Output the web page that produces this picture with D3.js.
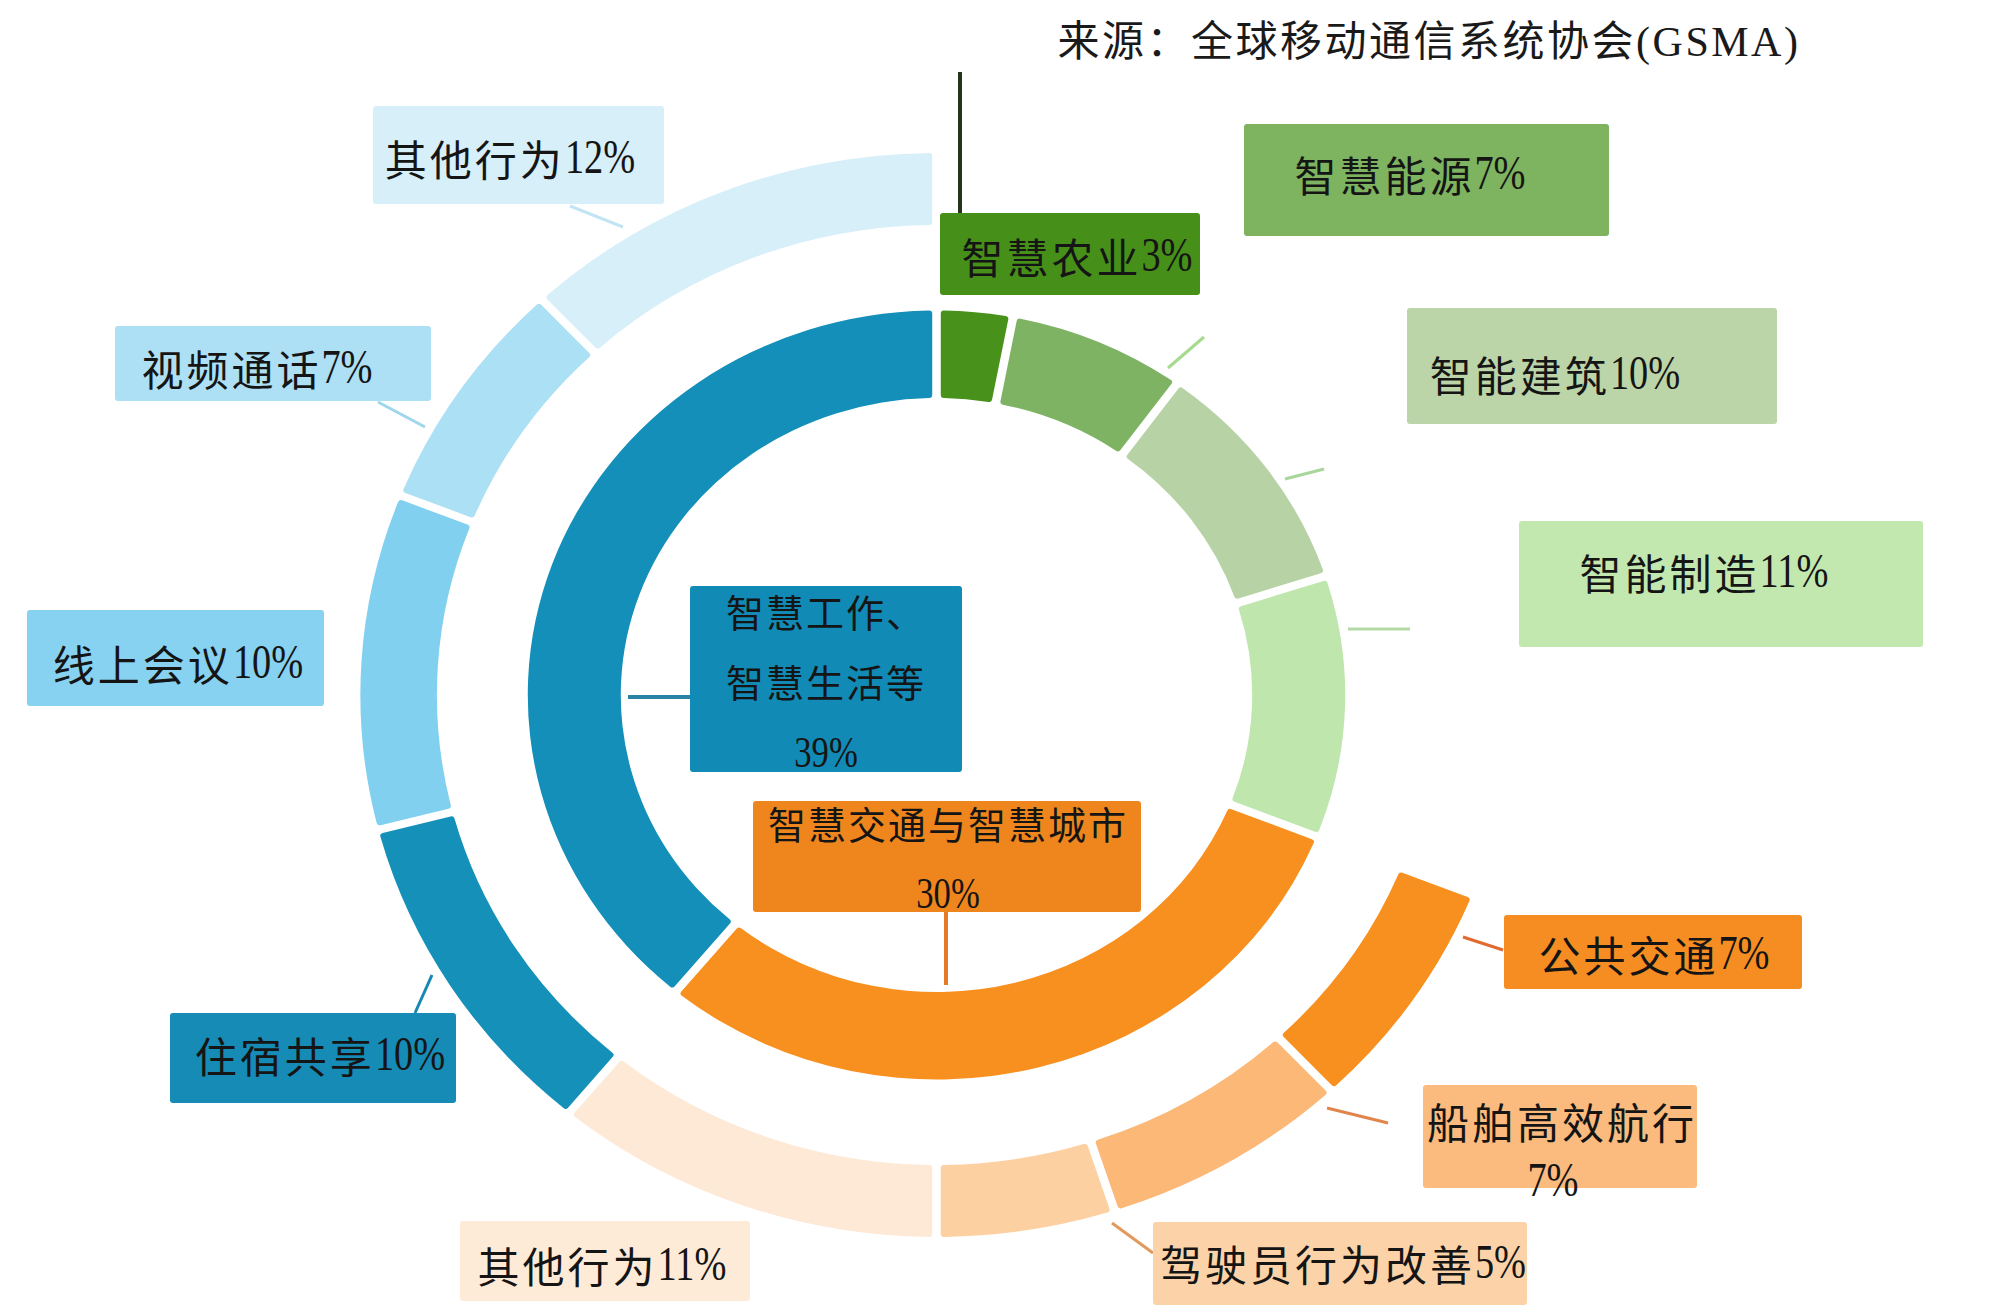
<!DOCTYPE html>
<html><head><meta charset="utf-8">
<script src="https://cdn.jsdelivr.net/npm/d3@7"></script>
<style>html,body{margin:0;padding:0;background:#fff;} svg{display:block;}</style>
</head><body><svg id="chart" width="2000" height="1316"></svg>
<script>
// ---------------- data ----------------
const innerCategories = ["智慧农业", "智慧能源", "智能建筑", "智能制造", "智慧交通与智慧城市", "智慧工作、智慧生活等"];
const innerValues = [3, 7, 10, 11, 30, 39];
const innerColors = ["#48921c", "#7db362", "#b7d3a5", "#bfe6ad", "#f8901f", "#138fb9"];

const outerCategories = ["公共交通", "船舶高效航行", "驾驶员行为改善", "其他行为", "住宿共享", "线上会议", "视频通话", "其他行为"];
const outerValues = [7, 7, 5, 11, 10, 10, 7, 12];
const outerColors = ["#f8901f", "#fbb877", "#fdd0a2", "#fde9d6", "#1490b9", "#82d0ef", "#ace0f4", "#d6eff9"];

const sourceText = "来源：全球移动通信系统协会(GSMA)";

// ---------------- layout ----------------
const W = 2000, H = 1316;
const cx = 936.5, cy = 695, sx = 1.063;
const innerR = [297, 384.5];
const outerR = [470, 542];

const labelLayout = [
  {ring: "outer", i: 7, mode: "one", box: [373, 106, 291, 98], fill: "#d6eff9", tx: [510], ty: [157], leader: [570, 206, 623, 227], lc: "#c3e5f3"},
  {ring: "outer", i: 6, mode: "one", box: [115, 326, 316, 75], fill: "#ade0f4", tx: [257], ty: [367], leader: [378, 402, 425, 427], lc: "#9fd6ec"},
  {ring: "outer", i: 5, mode: "one", box: [27, 610, 297, 96], fill: "#86d2f0", tx: [178], ty: [662]},
  {ring: "outer", i: 4, mode: "one", box: [170, 1013, 286, 90], fill: "#158bb6", tx: [320], ty: [1054], leader: [415, 1013, 432, 975], lc: "#1589b4"},
  {ring: "outer", i: 3, mode: "one", box: [460, 1221, 290, 80], fill: "#fdebd8", tx: [602], ty: [1264]},
  {ring: "outer", i: 2, mode: "one", box: [1153, 1222, 374, 83], fill: "#fcd3a8", tx: [1343], ty: [1262], leader: [1112, 1223, 1153, 1253], lc: "#e29a5c"},
  {ring: "outer", i: 1, mode: "two", box: [1423, 1085, 274, 103], fill: "#fbbb7e", tx: [1562, 1553], ty: [1120, 1180], leader: [1327, 1108, 1388, 1123], lc: "#e0854c"},
  {ring: "outer", i: 0, mode: "one", box: [1504, 915, 298, 74], fill: "#f68d22", tx: [1654], ty: [953], leader: [1463, 937, 1503, 950], lc: "#e06a30"},
  {ring: "inner", i: 3, mode: "one", box: [1519, 521, 404, 126], fill: "#c2e8b0", tx: [1704], ty: [571], leader: [1348, 629, 1410, 629], lc: "#b5d9a5"},
  {ring: "inner", i: 2, mode: "one", box: [1407, 308, 370, 116], fill: "#bcd5a8", tx: [1555], ty: [373], leader: [1285, 479, 1324, 469], lc: "#a9d69a"},
  {ring: "inner", i: 1, mode: "one", box: [1244, 124, 365, 112], fill: "#7eb35f", tx: [1410], ty: [173], leader: [1168, 368, 1204, 337], lc: "#a6da8c"},
  {ring: "inner", i: 0, mode: "one", box: [940, 213, 260, 82], fill: "#46901a", tx: [1077], ty: [255], leader: [960, 72, 960, 213], lc: "#27341d", lw: 4},
  {ring: "inner", i: 5, mode: "three", box: [690, 586, 272, 186], fill: "#118bb5", tx: [826, 826, 826], ty: [610, 680, 752], leader: [628, 697, 690, 697], lc: "#2a82a4", lw: 4, small: true},
  {ring: "inner", i: 4, mode: "two", box: [753, 801, 388, 111], fill: "#ef861d", tx: [948, 948], ty: [822, 893], leader: [946, 912, 946, 985], lc: "#e47a26", lw: 4, small: true}
];

// ---------------- drawing ----------------
const svg = d3.select("#chart");
svg.append("rect").attr("width", W).attr("height", H).attr("fill", "#fff");

const TAU = Math.PI * 2;
const innerData = innerCategories.map((c, i) => ({name: c, value: innerValues[i], color: innerColors[i]}));
const innerArcs = d3.pie().sort(null).value(d => d.value).startAngle(0).endAngle(TAU)(innerData);

// outer ring covers only the sectors of the last two inner groups
const outerStart = innerArcs[4].startAngle;
const outerData = outerCategories.map((c, i) => ({name: c, value: outerValues[i], color: outerColors[i]}));
const outerArcs = d3.pie().sort(null).value(d => d.value).startAngle(outerStart).endAngle(TAU)(outerData);

const arcInner = d3.arc().innerRadius(innerR[0]).outerRadius(innerR[1]).padAngle(0.023).padRadius(350).cornerRadius(3);
const arcOuter = d3.arc().innerRadius(outerR[0]).outerRadius(outerR[1]).padAngle(0.016).padRadius(500).cornerRadius(3);

const ring = svg.append("g").attr("transform", `translate(${cx},${cy}) scale(${sx},1)`);
ring.selectAll("path.outer").data(outerArcs).join("path").attr("class", "outer")
  .attr("d", arcOuter).attr("fill", d => d.data.color);
ring.selectAll("path.inner").data(innerArcs).join("path").attr("class", "inner")
  .attr("d", arcInner).attr("fill", d => d.data.color);

const cjkFont = "'Noto Sans CJK SC', sans-serif";
const numFont = "'Liberation Serif', serif";
const numScale = 0.78;

// leaders
const lg = svg.append("g");
labelLayout.filter(l => l.leader).forEach(l => {
  lg.append("line").attr("x1", l.leader[0]).attr("y1", l.leader[1]).attr("x2", l.leader[2]).attr("y2", l.leader[3])
    .attr("stroke", l.lc).attr("stroke-width", l.lw || 3).attr("stroke-linecap", "butt");
});

// one text line: CJK part + condensed serif number part, centred at x
function drawLine(g, str, x, y, size, ls) {
  const m = str.match(/^(.*?)(\d+%)?$/);
  const cjk = m[1] || "", pct = m[2] || "";
  let w1 = 0, t1 = null;
  if (cjk) {
    t1 = g.append("text").attr("y", y).attr("dominant-baseline", "central")
      .attr("font-family", cjkFont).attr("font-size", size).attr("letter-spacing", ls)
      .attr("fill", "#151515").text(cjk);
    w1 = t1.node().getComputedTextLength();
  }
  let w2 = 0, t2 = null;
  if (pct) {
    t2 = g.append("text").attr("x", 0).attr("y", 0).attr("dominant-baseline", "central")
      .attr("font-family", numFont).attr("font-size", size * 1.17)
      .attr("fill", "#151515").text(pct);
    w2 = t2.node().getComputedTextLength() * numScale;
  }
  const start = x - (w1 + w2) / 2;
  if (t1) t1.attr("x", start);
  if (t2) t2.attr("transform", `translate(${start + w1},${y}) scale(${numScale},1)`);
}

// boxes + texts
const bg = svg.append("g");
labelLayout.forEach(l => {
  const d = l.ring === "inner" ? innerData[l.i] : outerData[l.i];
  const pct = d.value + "%";
  let lines;
  if (l.mode === "one") lines = [d.name + pct];
  else if (l.mode === "two") lines = [d.name, pct];
  else {
    const k = d.name.indexOf("、") + 1;
    lines = [d.name.slice(0, k), d.name.slice(k), pct];
  }
  bg.append("rect").attr("x", l.box[0]).attr("y", l.box[1]).attr("width", l.box[2]).attr("height", l.box[3])
    .attr("rx", 3).attr("fill", l.fill);
  lines.forEach((t, j) => {
    drawLine(bg, t, l.tx[j], l.ty[j], l.small ? 38 : 42, l.small ? 2 : 3);
  });
});

// source title
svg.append("text").attr("x", 1429).attr("y", 42)
  .attr("text-anchor", "middle").attr("dominant-baseline", "central")
  .attr("font-family", "'Liberation Serif', 'Noto Sans CJK SC', serif").attr("font-size", 42).attr("letter-spacing", 2.5)
  .attr("fill", "#1a1a1a").text(sourceText);
</script>
</body></html>
